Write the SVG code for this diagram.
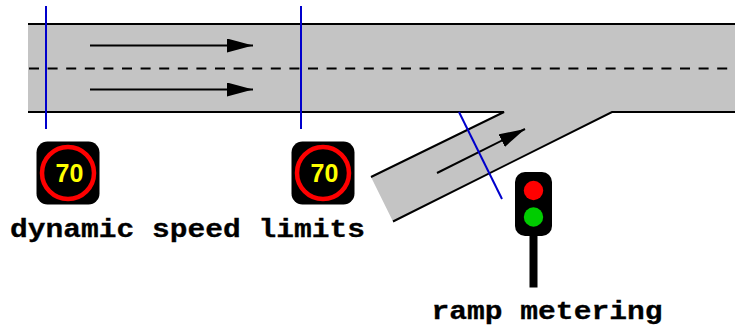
<svg xmlns="http://www.w3.org/2000/svg" width="735" height="329" viewBox="0 0 735 329">
<style>
.edge{stroke:#000;stroke-width:2;fill:none}
.det{stroke:#0000cc;stroke-width:2;fill:none}
.lane{stroke:#000;stroke-width:2;fill:none;marker-end:url(#ah)}
.lbl{font-family:"Liberation Mono",monospace;font-weight:bold;font-size:25px;fill:#000;stroke:#000;stroke-width:.3}
.num{font-family:"Liberation Sans",Arial,sans-serif;font-weight:bold;font-size:25px;fill:#ff0;text-anchor:middle}
</style>
<defs>
<marker id="ah" markerUnits="userSpaceOnUse" markerWidth="26" markerHeight="14" refX="26" refY="7" orient="auto"><path d="M0 0L26 7L0 14Z" fill="#000"/></marker>
</defs>
<g id="road">
<path d="M28 24H735V112H612L393 221.500L371 177L504 112H28Z" fill="#c4c4c4"/>
<path class="edge" d="M28 24H735M28 112H504L371 177M393 221.500L612 112H735"/>
<path d="M29 68.500H728" stroke="#000" stroke-width="2" stroke-dasharray="10 8.600" fill="none"/>
</g>
<g id="connectors">
<path class="lane" d="M90 45.500H253"/>
<path class="lane" d="M90 89.500H253"/>
<path class="lane" d="M437 173L525 129"/>
<path class="det" d="M46 6V129"/>
<path class="det" d="M301 6V129"/>
<path class="det" d="M459 112L502 199"/>
</g>
<g id="sign1">
<rect x="36.500" y="141.500" width="63" height="63" rx="11" fill="#000"/>
<circle cx="68" cy="173" r="26" fill="none" stroke="#f00" stroke-width="4.500"/>
<text class="num" x="69.500" y="182">70</text>
</g>
<g id="sign2">
<rect x="291.500" y="141.500" width="63" height="63" rx="11" fill="#000"/>
<circle cx="323" cy="173" r="26" fill="none" stroke="#f00" stroke-width="4.500"/>
<text class="num" x="324.500" y="182">70</text>
</g>
<g id="signal">
<rect x="515" y="172" width="37" height="64" rx="10" fill="#000"/>
<rect x="529.500" y="230" width="8" height="57.500" fill="#000"/>
<circle cx="533.500" cy="190.500" r="9.700" fill="#f00"/>
<circle cx="533.500" cy="217" r="9.700" fill="#0c0"/>
</g>
<text id="label1" class="lbl" x="10" y="237" textLength="355" lengthAdjust="spacingAndGlyphs">dynamic speed limits</text>
<text id="label2" class="lbl" x="431.500" y="318.500" textLength="231" lengthAdjust="spacingAndGlyphs">ramp metering</text>
</svg>
